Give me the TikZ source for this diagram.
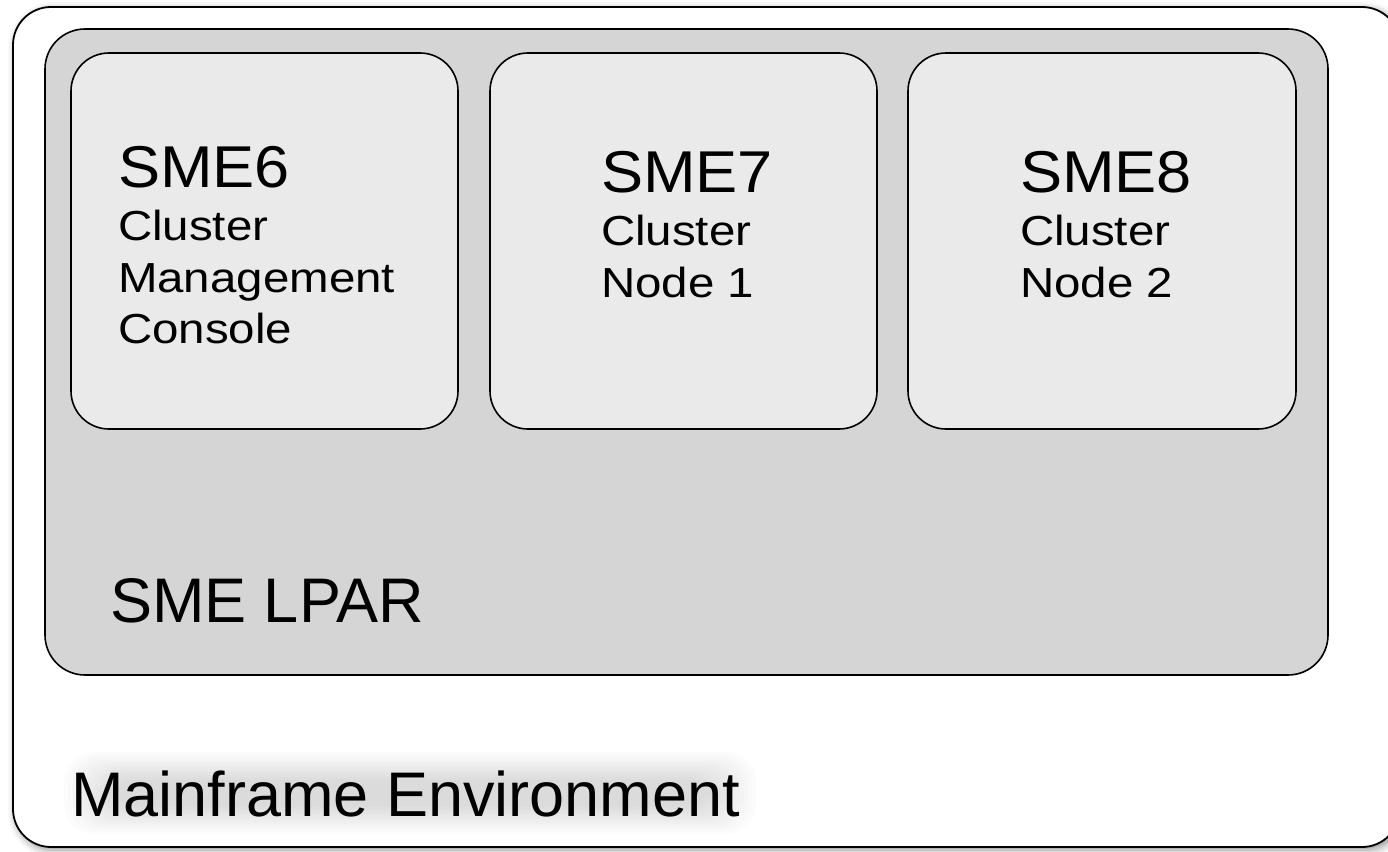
\documentclass[tikz,border=0pt]{standalone}
\usepackage{fontspec}
\setmainfont{Liberation Sans}
\usetikzlibrary{shadows.blur}
\newcommand{\titletxt}[1]{\scalebox{1.07}[1]{\fontsize{59}{59}\selectfont #1}}
\newcommand{\subtxt}[1]{\scalebox{1.13}[1]{\fontsize{42}{42}\selectfont #1}}
\newcommand{\bigtxt}[1]{{\fontsize{63}{63}\selectfont #1}}
\begin{document}
\begin{tikzpicture}[x=1pt,y=-1pt,
  outerbox/.style={draw=black,line width=1.8pt,fill=white,rounded corners=38pt,
    blur shadow={shadow xshift=3pt,shadow yshift=-3pt,shadow blur radius=8pt,shadow opacity=45}},
  lparbox/.style={draw=black,line width=1.6pt,fill=lparfill,rounded corners=40pt},
  smebox/.style={draw=black,line width=1.6pt,fill=smefill,rounded corners=38pt},
  haze/.style={fill=black,opacity=0.012,rounded corners=30pt},
  lbl/.style={anchor=base west,inner sep=0pt,outer sep=0pt,text=black}]
\definecolor{lparfill}{HTML}{D5D5D5}
\definecolor{smefill}{HTML}{EAEAEA}
\useasboundingbox (0,0) rectangle (1388,851);
\path[outerbox] (13,7) rectangle (1400,847);
% soft shadow under the environment label
\foreach \i in {0,...,11} {
  \path[haze] (64+4*\i,752+2.5*\i) rectangle (756-4*\i,834-2.5*\i);
}
\node[lbl] (env) at (71,816) {\bigtxt{Mainframe Environment}};
\path[lparbox] (45,29) rectangle (1328,675);
\node[lbl] (lpar) at (110,622) {\bigtxt{SME LPAR}};
\path[smebox] (71,53) rectangle (458,429);
\path[smebox] (490,53) rectangle (877,429);
\path[smebox] (908,53) rectangle (1296,429);
\node[lbl] (t6) at (118,187) {\titletxt{SME6}};
\node[lbl] (a6) at (118,240) {\subtxt{Cluster}};
\node[lbl] (b6) at (118,292) {\subtxt{Management}};
\node[lbl] (c6) at (118,343) {\subtxt{Console}};
\node[lbl] (t7) at (601,192) {\titletxt{SME7}};
\node[lbl] (a7) at (601,245) {\subtxt{Cluster}};
\node[lbl] (b7) at (601,297) {\subtxt{Node 1}};
\node[lbl] (t8) at (1020,192) {\titletxt{SME8}};
\node[lbl] (a8) at (1020,245) {\subtxt{Cluster}};
\node[lbl] (b8) at (1020,297) {\subtxt{Node 2}};
\end{tikzpicture}
\end{document}
